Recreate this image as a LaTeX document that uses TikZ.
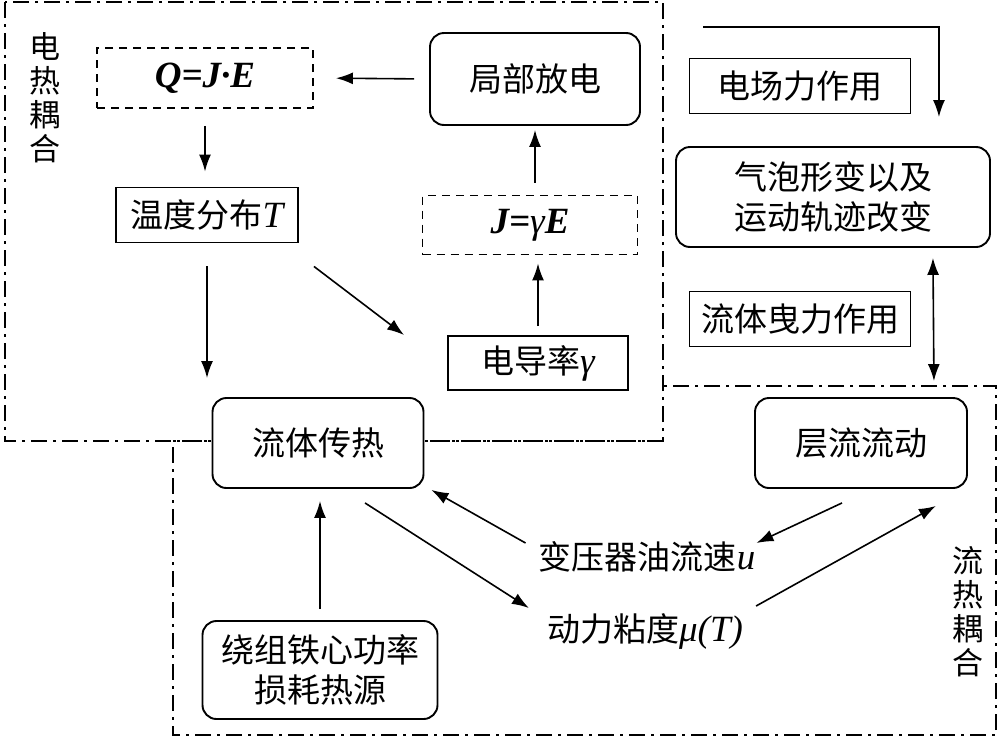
\documentclass[tikz,border=0pt]{standalone}
\usepackage{fontspec}
\setmainfont{Liberation Serif}
\newfontfamily\cjk{Noto Sans CJK SC}
\newcommand{\lt}[1]{{\rmfamily\fontsize{37}{40}\selectfont #1}}
\usetikzlibrary{arrows.meta,calc}
\begin{document}
\begin{tikzpicture}[x=1pt,y=-1pt,
  every node/.style={font=\cjk\fontsize{33}{40}\selectfont},
  box/.style={draw,line width=1.9pt,inner sep=0pt,align=center,fill=white},
  rbox/.style={box,rounded corners=14pt},
  dbox/.style={box,dash pattern=on 8pt off 6pt},
  arr/.style={line width=1.6pt,-{Latex[length=17pt,width=12pt]}},
  darr/.style={line width=1.6pt,{Latex[length=17pt,width=12pt]}-{Latex[length=17pt,width=12pt]}},
  region/.style={line width=1.6pt,dash pattern=on 16pt off 6pt on 3pt off 6pt},
  vlab/.style={align=center,font=\cjk\fontsize{31}{34}\selectfont}]
\useasboundingbox (0,0) rectangle (1003,742);
% regions
\draw[region] (5,2) rectangle (663,441);
\draw[region] (663,441) -- (173,441) -- (173,735) -- (996,735) -- (996,386) -- (663,386);
% labels
\node[vlab] (lab1) at (45,98) {电\\热\\耦\\合};
\node[vlab] (lab2) at (968,612) {流\\热\\耦\\合};
% nodes
\node[dbox,minimum width=216pt,minimum height=60pt] (q) at (205,78) {\lt{\bfseries\itshape Q=J·E}};
\node[rbox,minimum width=210pt,minimum height=92pt] (pd) at (535,79) {局部放电};
\node[box,minimum width=182pt,minimum height=55pt] (temp) at (207,215) {温度分布\lt{\itshape T}};
\node[dbox,minimum width=215pt,minimum height=59pt] (J) at (530,225) {\lt{\itshape\textbf{J=}γ\textbf{E}}};
\node[box,minimum width=180pt,minimum height=54pt] (cond) at (538,363) {电导率\lt{\itshape γ}};
\node[box,minimum width=221pt,minimum height=55pt] (ef) at (800,86) {电场力作用};
\node[rbox,minimum width=314pt,minimum height=100pt] (bub) at (833,197) {气泡形变以及\\运动轨迹改变};
\node[box,minimum width=221pt,minimum height=55pt] (drag) at (800,319) {流体曳力作用};
\node[rbox,minimum width=212pt,minimum height=90pt] (lam) at (861,443) {层流流动};
\node[rbox,minimum width=211pt,minimum height=90pt] (flow) at (318,443) {流体传热};
\node[rbox,minimum width=235pt,minimum height=98pt] (src) at (320,670) {绕组铁心功率\\损耗热源};
\node[inner sep=0pt] (u) at (647,557) {变压器油流速\lt{\itshape u}};
\node[inner sep=0pt] (mu) at (645,632) {动力粘度\lt{\itshape μ(T)}};
\coordinate (es) at (703,27);
% connectors
\draw[arr,shorten <=15pt,shorten >=22pt] (pd.west) -- (q.east);
\draw[arr,shorten <=17pt,shorten >=15pt] (q.south) -- (q.south |- temp.north);
\draw[arr,shorten <=23pt,shorten >=19pt] (temp.south) -- (temp.south |- flow.north);
\draw[arr] ($(temp.south east)+(15,23)$) -- ($(cond.west)+(-43,-28)$);
\draw[arr,shorten <=9pt,shorten >=8pt] (cond.north) -- (cond.north |- J.south);
\draw[arr,shorten <=12pt,shorten >=4pt] (pd.south |- J.north) -- (pd.south);
\draw[arr] (es) -| ($(bub.north east)+(-52,-29)$);
\draw[darr] ($(bub.south east)+(-58,10)$) -- ($(lam.north east)+(-34,-16)$);
\draw[arr] ($(lam.south)+(-19,14)$) -- ($(u.east)+(1,-14)$);
\draw[arr] ($(mu.east)+(13,-26)$) -- ($(lam.south east)+(-32,17)$);
\draw[arr] ($(flow.south)+(47,14)$) -- ($(mu.west)+(-18,-24)$);
\draw[arr] ($(u.west)+(-13,-14)$) -- ($(flow.south east)+(7,1)$);
\draw[arr,shorten <=11pt,shorten >=12pt] (src.north) -- (src.north |- flow.south);
\end{tikzpicture}
\end{document}
